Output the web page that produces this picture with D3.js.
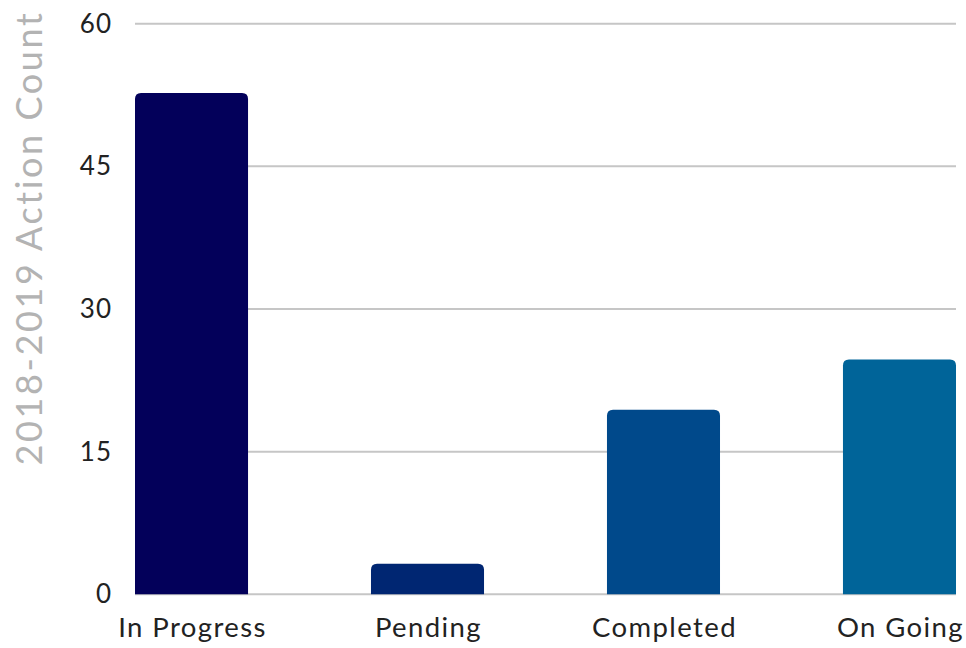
<!DOCTYPE html>
<html><head><meta charset="utf-8">
<script src="https://cdn.jsdelivr.net/npm/d3@7"></script>
<style>body{margin:0;background:#fff}svg{display:block}</style>
</head><body>
<svg id="chart" width="966" height="648"></svg>
<script>
const categories = ["In Progress", "Pending", "Completed", "On Going"];
const values = [52.7, 3.2, 19.4, 24.7];
const colors = ["#03005a", "#002672", "#00498b", "#006499"];
const yTicks = [0, 15, 30, 45, 60];
const yTitle = "2018-2019 Action Count";

const svg = d3.select("#chart");
const plotLeft = 135, plotRight = 956, plotTop = 23.7, plotBottom = 594.3;
const font = "Lato, 'Open Sans', sans-serif";

const x = d3.scaleBand().domain(categories).range([plotLeft, plotRight])
  .paddingInner(0.521).paddingOuter(0);
const y = d3.scaleLinear().domain([0, 60]).range([plotBottom, plotTop]);

// gridlines
svg.append("g").selectAll("line").data(yTicks).join("line")
  .attr("x1", plotLeft).attr("x2", plotRight)
  .attr("y1", d => y(d)).attr("y2", d => y(d))
  .attr("stroke", "#c6c6c6").attr("stroke-width", 2);

// y tick labels
svg.append("g").selectAll("text").data(yTicks).join("text")
  .attr("x", 112).attr("y", d => y(d)).attr("dy", "0.35em")
  .attr("text-anchor", "end").attr("font-family", font)
  .attr("font-size", 26).attr("letter-spacing", 1).attr("fill", "#222").text(d => d);

// bars with rounded top corners
const r = 6;
svg.append("g").selectAll("path").data(categories).join("path")
  .attr("fill", (d, i) => colors[i])
  .attr("d", (d, i) => {
    const x0 = x(d), w = x.bandwidth(), y0 = y(values[i]), y1 = y(0);
    return `M${x0},${y1}V${y0 + r}Q${x0},${y0} ${x0 + r},${y0}H${x0 + w - r}Q${x0 + w},${y0} ${x0 + w},${y0 + r}V${y1}Z`;
  });

// x labels
svg.append("g").selectAll("text").data(categories).join("text")
  .attr("x", d => x(d) + x.bandwidth() / 2 + 1).attr("y", 637)
  .attr("text-anchor", "middle").attr("font-family", font)
  .attr("font-size", 27.5).attr("letter-spacing", 1.4).attr("fill", "#222").text(d => d);

// y title
svg.append("text")
  .attr("transform", `translate(42, 238) rotate(-90)`)
  .attr("text-anchor", "middle").attr("font-family", font)
  .attr("font-size", 36).attr("letter-spacing", 2.6).attr("fill", "#b3b3b3").text(yTitle);
</script>
</body></html>
